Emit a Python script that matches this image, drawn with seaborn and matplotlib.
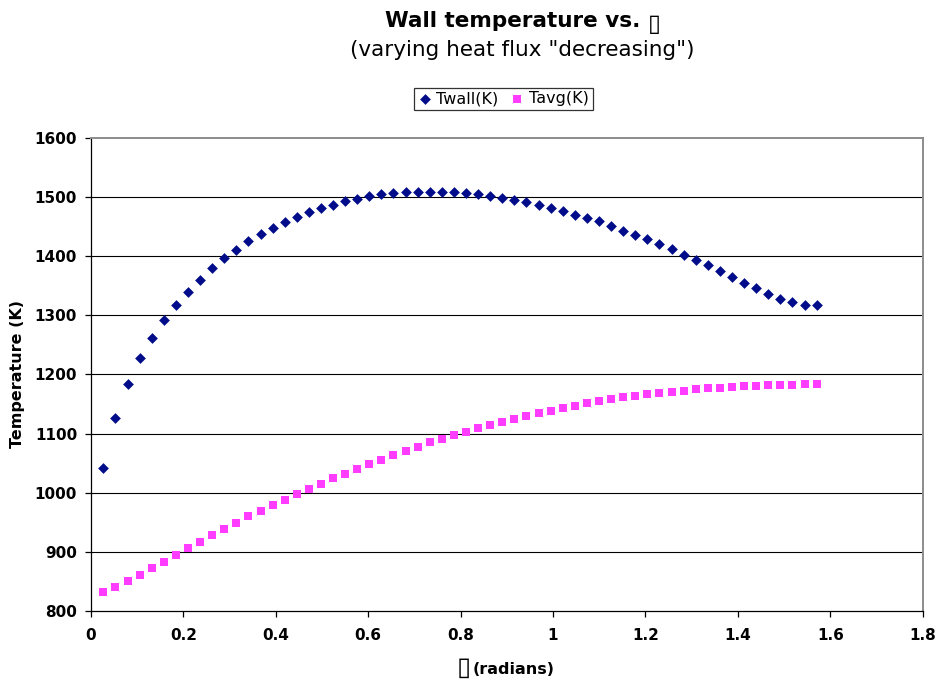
import numpy as np
import pandas as pd
import matplotlib
matplotlib.use("Agg")
import matplotlib.pyplot as plt
import seaborn as sns

# ---- data ----
theta = [0.026, 0.052, 0.079, 0.105, 0.131, 0.157, 0.183, 0.209, 0.236, 0.262,
         0.288, 0.314, 0.340, 0.367, 0.393, 0.419, 0.445, 0.471, 0.497, 0.524,
         0.550, 0.576, 0.602, 0.628, 0.654, 0.681, 0.707, 0.733, 0.759, 0.785,
         0.812, 0.838, 0.864, 0.890, 0.916, 0.942, 0.969, 0.995, 1.021, 1.047,
         1.073, 1.100, 1.126, 1.152, 1.178, 1.204, 1.230, 1.257, 1.283, 1.309,
         1.335, 1.361, 1.388, 1.414, 1.440, 1.466, 1.492, 1.518, 1.545, 1.571]

twall = [1041, 1126, 1184, 1228, 1262, 1292, 1317, 1340, 1360, 1380,
         1396, 1411, 1425, 1437, 1448, 1458, 1466, 1475, 1481, 1487,
         1493, 1497, 1501, 1504, 1506, 1508, 1508, 1509, 1509, 1508,
         1506, 1504, 1502, 1498, 1494, 1491, 1486, 1481, 1476, 1470,
         1465, 1459, 1451, 1443, 1436, 1429, 1420, 1412, 1402, 1393,
         1384, 1375, 1365, 1355, 1346, 1336, 1328, 1322, 1317, 1318]

tavg = [832, 840, 851, 861, 873, 883, 895, 907, 917, 928,
        938, 949, 960, 969, 979, 988, 997, 1006, 1015, 1024,
        1032, 1040, 1048, 1055, 1063, 1070, 1077, 1085, 1090, 1097,
        1103, 1109, 1114, 1120, 1125, 1129, 1134, 1138, 1143, 1147,
        1151, 1155, 1158, 1161, 1163, 1167, 1169, 1171, 1172, 1175,
        1177, 1177, 1179, 1180, 1181, 1182, 1182, 1182, 1183, 1183]

series_names = ["Twall(K)", "Tavg(K)"]
x_ticks = [0, 0.2, 0.4, 0.6, 0.8, 1, 1.2, 1.4, 1.6, 1.8]
x_tick_labels = ["0", "0.2", "0.4", "0.6", "0.8", "1", "1.2", "1.4", "1.6", "1.8"]
y_ticks = [800, 900, 1000, 1100, 1200, 1300, 1400, 1500, 1600]

df_wall = pd.DataFrame({"theta": theta, "T": twall})
df_avg = pd.DataFrame({"theta": theta, "T": tavg})

sns.set_theme(style="white")
plt.rcParams["font.family"] = ["DejaVu Sans"]
plt.rcParams["text.color"] = "black"
plt.rcParams["axes.labelcolor"] = "black"
plt.rcParams["xtick.color"] = "black"
plt.rcParams["ytick.color"] = "black"

W, H = 940, 681
fig = plt.figure(figsize=(9.4, 6.81), dpi=100)
ax = fig.add_axes([91 / W, 1 - 611 / H, (922.7 - 91) / W, (611 - 137.7) / H])

navy = "#000C8A"
magenta = "#FF3CFF"

sns.scatterplot(data=df_wall, x="theta", y="T", ax=ax, marker="D", s=30,
                color=navy, linewidth=0, label=series_names[0], zorder=3)
sns.scatterplot(data=df_avg, x="theta", y="T", ax=ax, marker="s", s=40,
                color=magenta, linewidth=0, label=series_names[1], zorder=3)

ax.set_xlim(0, 1.8)
ax.set_ylim(800, 1600)
ax.set_xticks(x_ticks)
ax.set_xticklabels(x_tick_labels)
ax.set_yticks(y_ticks)
ax.set_yticklabels([str(v) for v in y_ticks])

for v in y_ticks[1:-1]:
    ax.axhline(v, color="black", linewidth=0.8, zorder=1)

for side in ["left", "bottom"]:
    ax.spines[side].set_color("black")
    ax.spines[side].set_linewidth(0.9)
for side in ["top", "right"]:
    ax.spines[side].set_color("#8c8c8c")
    ax.spines[side].set_linewidth(1.4)
    ax.spines[side].set_visible(True)

ax.tick_params(axis="y", which="major", direction="out", length=4, width=0.9,
               color="black", left=True, pad=6, labelsize=11)
ax.tick_params(axis="x", which="major", direction="out", length=4, width=0.9,
               color="black", bottom=True, pad=8, labelsize=11)
for lab in ax.get_xticklabels() + ax.get_yticklabels():
    lab.set_fontweight("bold")

ax.set_xlabel("")
ax.set_ylabel("Temperature (K)", fontsize=11.5, fontweight="bold", va="center")
ax.yaxis.set_label_coords((18 - 91) / 831.7, 0.5)

# x-axis title: missing-glyph box followed by "(radians)"
fig.text(456.5 / W, 1 - 668 / H, "\u25AF", ha="left", va="center",
         fontsize=18.5, fontweight="normal")
fig.text(472.5 / W, 1 - 669 / H, "(radians)", ha="left", va="center",
         fontsize=11.5, fontweight="bold")

# chart title
fig.text(385 / W, 1 - 21 / H, "Wall temperature vs.", ha="left",
         va="center", fontsize=15.5, fontweight="bold")
fig.text(648 / W, 1 - 24 / H, "\u25AF", ha="left", va="center",
         fontsize=17, fontweight="normal")
fig.text(522.5 / W, 1 - 50 / H, '(varying heat flux "decreasing")', ha="center",
         va="center", fontsize=15.5)

if ax.legend_ is not None:
    ax.legend_.remove()
handles, labels = ax.get_legend_handles_labels()
leg = fig.legend(handles, labels, loc="center", bbox_to_anchor=(503.5 / W, 1 - 99 / H),
                 ncol=2, frameon=True, fancybox=False, fontsize=11.5,
                 handlelength=0.8, handletextpad=0.3, columnspacing=0.8,
                 borderpad=0.25, borderaxespad=0, markerscale=1.0)
leg.get_frame().set_edgecolor("black")
leg.get_frame().set_linewidth(0.9)

fig.savefig("out.png", dpi=100, facecolor="white")
